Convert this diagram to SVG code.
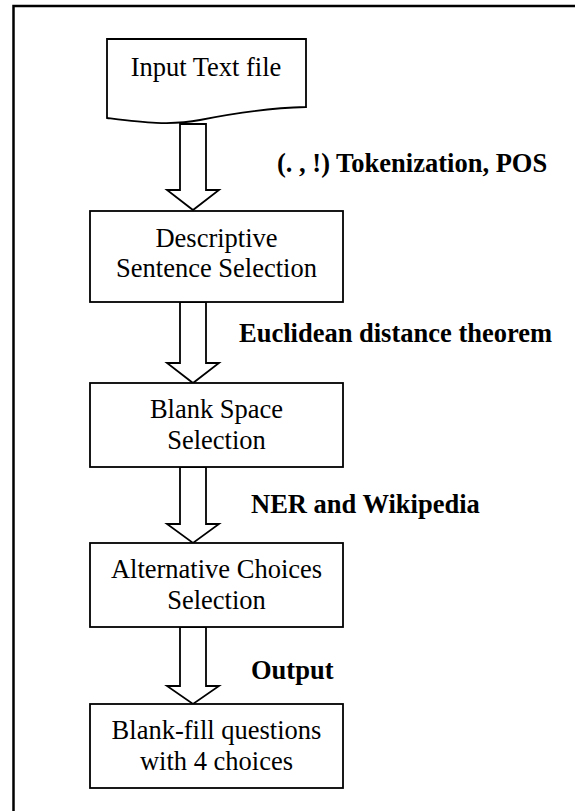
<svg xmlns="http://www.w3.org/2000/svg" width="575" height="811" viewBox="0 0 575 811">
<style>
.box{fill:#fff;stroke:#000;stroke-width:1.8}
.arr{fill:#fff;stroke:#000;stroke-width:1.8;stroke-linejoin:miter}
.t{font-family:"Liberation Serif",serif;font-size:26.5px;fill:#000;text-anchor:middle}
.lb{font-family:"Liberation Serif",serif;font-size:26.5px;font-weight:bold;fill:#000}
</style>
<rect width="575" height="811" fill="#fff"/>
<path d="M13.5,811 V6 H575" fill="none" stroke="#000" stroke-width="2.5"/>
<g id="connectors">
<path class="arr" d="M180,124 H206 V190 H219 L193,210 L167,190 H180 Z"/>
<path class="arr" d="M180,302 H206 V363 H219 L193,383 L167,363 H180 Z"/>
<path class="arr" d="M180,467 H206 V524 H219 L193,543 L167,524 H180 Z"/>
<path class="arr" d="M180,627 H206 V686 H219 L193,704 L167,686 H180 Z"/>
<text class="lb" x="277" y="172">(. , !) Tokenization, POS</text>
<text class="lb" x="239" y="342">Euclidean distance theorem</text>
<text class="lb" x="251" y="513">NER and Wikipedia</text>
<text class="lb" x="251" y="679">Output</text>
</g>
<g id="n1">
<path class="box" d="M107,39 H306 V107 C270,108 240,112 200,120 C170,126 140,122 107,118 Z"/>
<text class="t" x="206" y="76">Input Text file</text>
</g>
<g id="n2">
<rect class="box" x="90" y="211" width="253" height="91"/>
<text class="t" x="216.5" y="247">Descriptive</text>
<text class="t" x="216.5" y="277">Sentence Selection</text>
</g>
<g id="n3">
<rect class="box" x="90" y="383" width="253" height="84"/>
<text class="t" x="216.5" y="418">Blank Space</text>
<text class="t" x="216.5" y="449">Selection</text>
</g>
<g id="n4">
<rect class="box" x="90" y="543" width="253" height="84"/>
<text class="t" x="216.5" y="578">Alternative Choices</text>
<text class="t" x="216.5" y="609">Selection</text>
</g>
<g id="n5">
<rect class="box" x="90" y="704" width="253" height="84"/>
<text class="t" x="216.5" y="739">Blank-fill questions</text>
<text class="t" x="216.5" y="770">with 4 choices</text>
</g>
</svg>
